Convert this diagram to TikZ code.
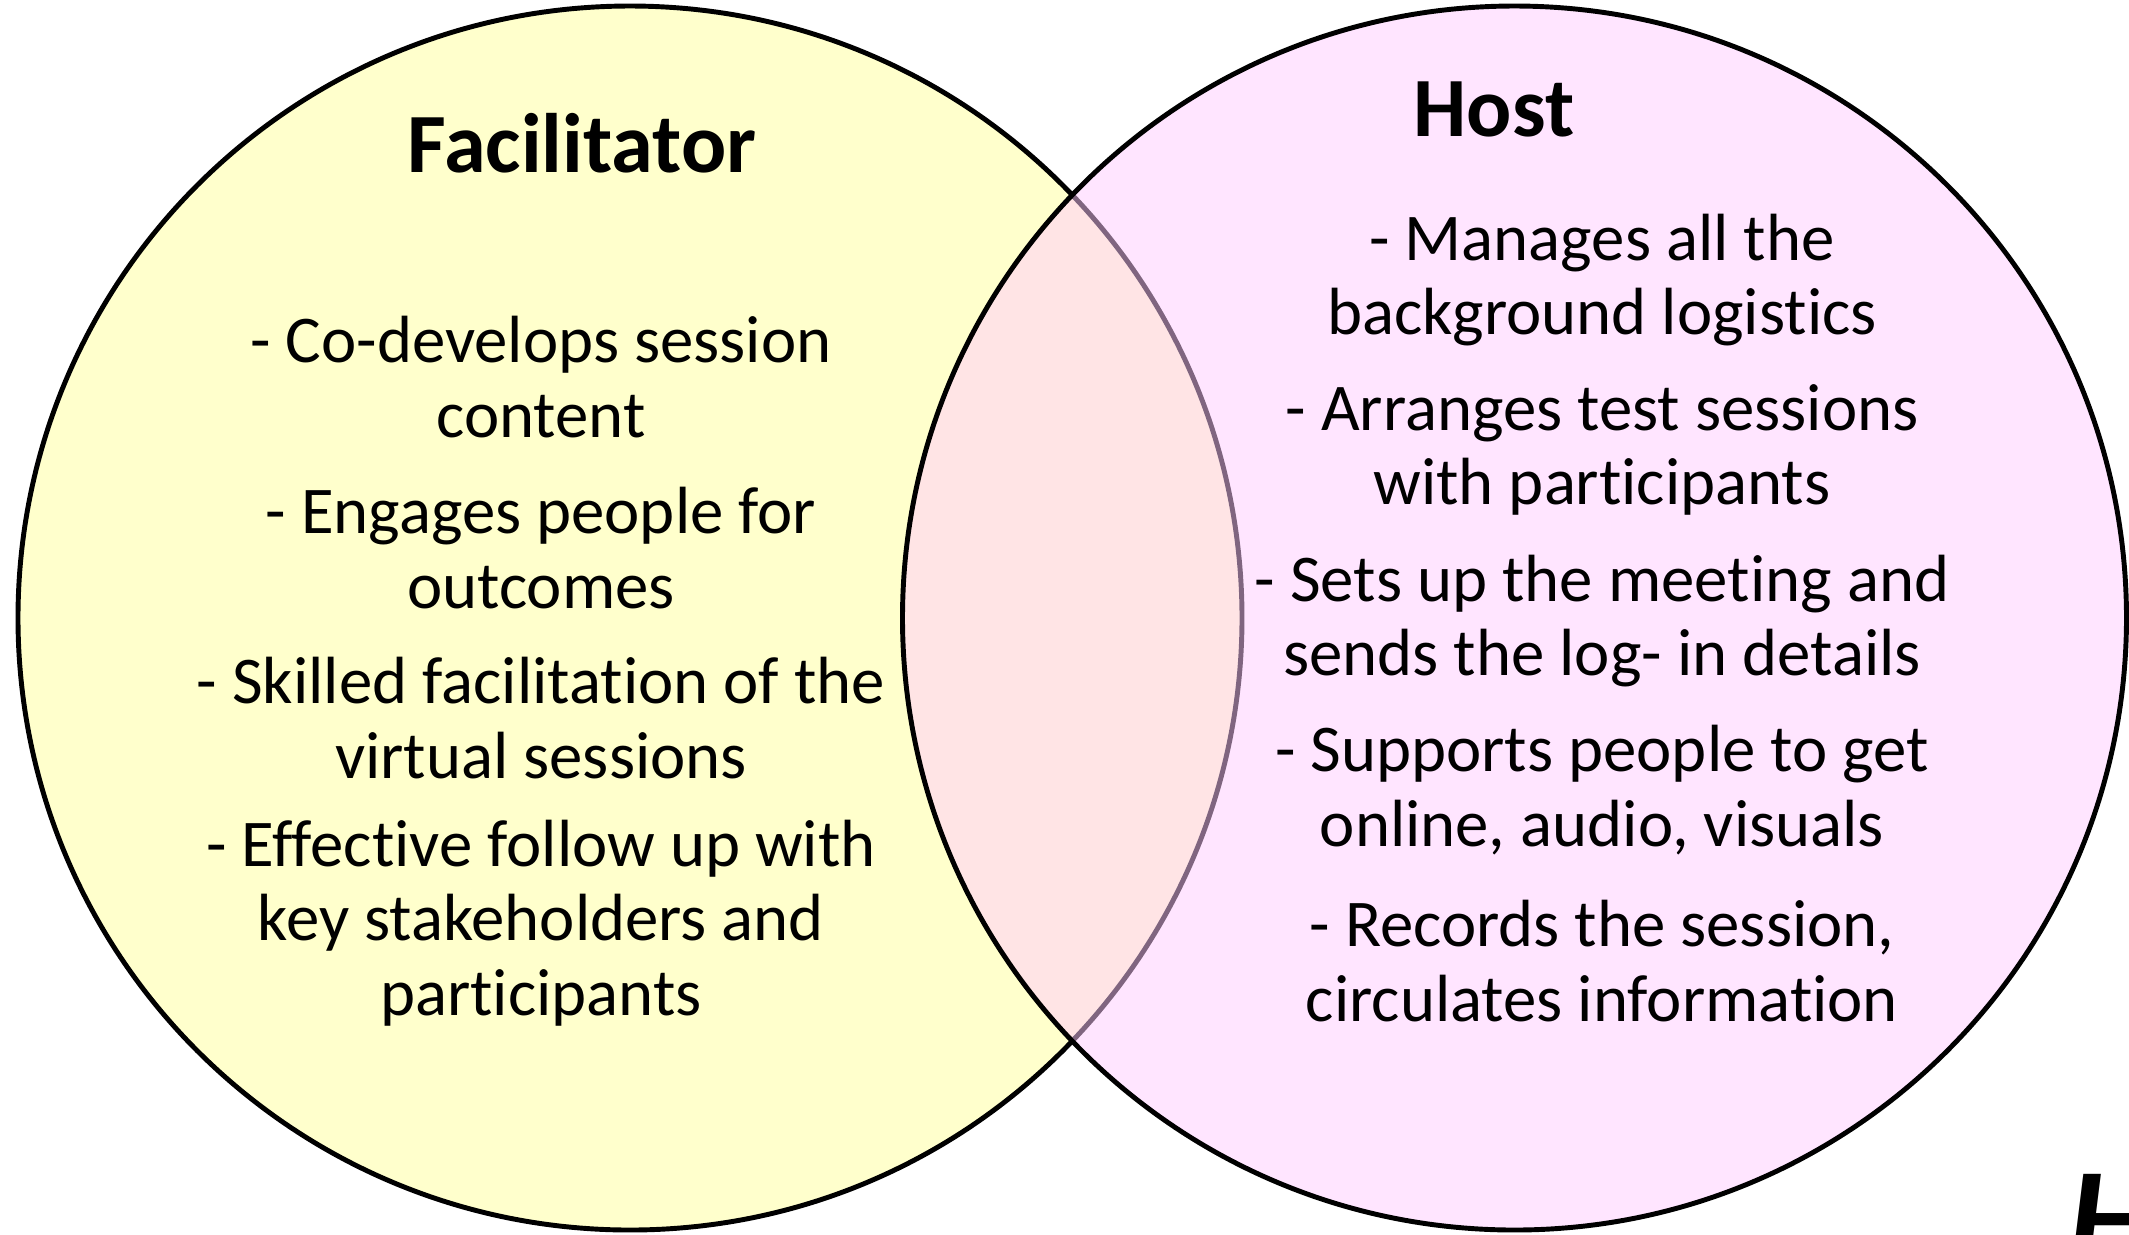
\documentclass[tikz,border=0pt]{standalone}
\usepackage{fontspec}
\setmainfont{Carlito}[Ligatures=NoCommon]
\usetikzlibrary{positioning}

\definecolor{facfill}{HTML}{FFFFCC}
\definecolor{hostfill}{HTML}{FFCBFF}

\tikzset{
  ring/.style={circle, draw=black, line width=1.4pt, minimum size=12.24cm, inner sep=0pt},
  heading/.style={font=\fontsize{24}{28}\selectfont\bfseries},
  duty/.style={align=center, inner sep=0pt, font=\fontsize{19}{21.2}\selectfont},
}

\begin{document}
\begin{tikzpicture}
    \useasboundingbox (0,0) rectangle (21.29,-12.34);
    % the two overlapping circles
    \node[ring, fill=facfill] at (6.30,-6.18) (fac) {};
    \node[ring, fill=hostfill, fill opacity=0.5] at (15.145,-6.18) (host) {};

    \node[heading] at (5.82,-1.43) (factitle) {Facilitator};
    \node[heading] at (14.94,-1.09) (hosttitle) {Host};

    % facilitator duties
    \node[duty] at (5.41,-3.77) (fac1) {- Co-develops session\\content};
    \node[duty] at (5.41,-5.48) (fac2) {- Engages people for\\outcomes};
    \node[duty] at (5.41,-7.18) (fac3) {- Skilled facilitation of the\\virtual sessions};
    \node[duty] at (5.41,-9.23) (fac4) {- Effective follow up with\\key stakeholders and\\participants};

    % host duties
    \node[duty] at (16.02,-2.80) (host1) {- Manages all the\\background logistics};
    \node[duty] at (16.02,-4.50) (host2) {- Arranges test sessions\\with participants};
    \node[duty] at (16.02,-6.21) (host3) {- Sets up the meeting and\\sends the log- in details};
    \node[duty] at (16.02,-7.90) (host4) {- Supports people to get\\online, audio, visuals};
    \node[duty] at (16.02,-9.61) (host5) {- Records the session,\\circulates information};

    % logo in the corner, cut by the page edge
    \begin{scope}
      \clip (0,0) rectangle (21.29,-12.34);
      \node[anchor=north west, inner sep=0pt, font=\fontsize{40}{44}\selectfont\bfseries\itshape] at (20.68,-11.74) (logo) {HA};
    \end{scope}
\end{tikzpicture}
\end{document}
